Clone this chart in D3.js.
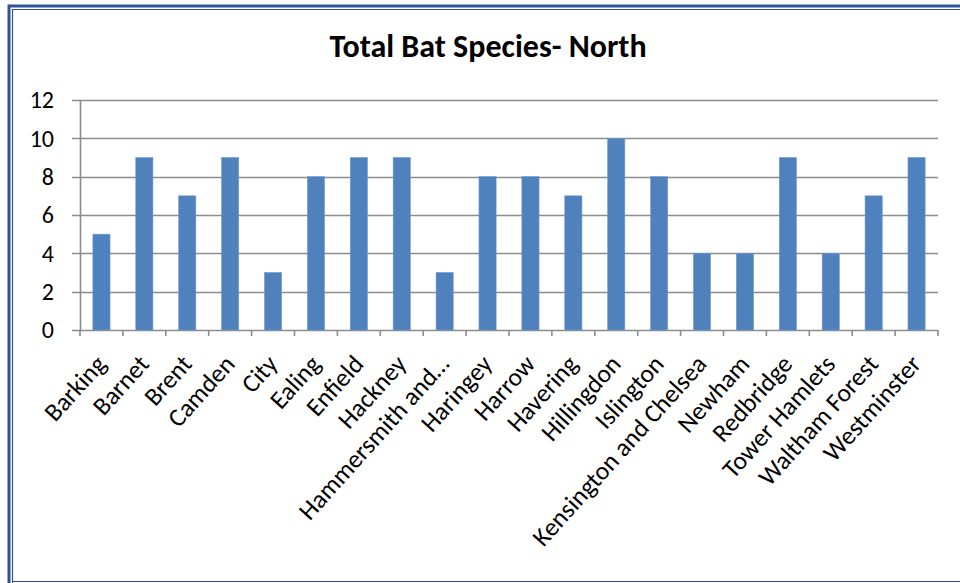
<!DOCTYPE html>
<html>
<head>
<meta charset="utf-8">
<script src="https://cdn.jsdelivr.net/npm/d3@7"></script>
<style>
  html, body { margin: 0; padding: 0; background: #fff; }
  svg { display: block; font-family: Carlito, Calibri, Lato, "Open Sans", sans-serif; }
</style>
</head>
<body>
<svg id="chart" width="960" height="583"></svg>
<script>
// London boroughs (north) and the number of bat species recorded in each
const boroughs = ["Barking", "Barnet", "Brent", "Camden", "City", "Ealing", "Enfield", "Hackney",
  "Hammersmith and…", "Haringey", "Harrow", "Havering", "Hillingdon", "Islington",
  "Kensington and Chelsea", "Newham", "Redbridge", "Tower Hamlets", "Waltham Forest", "Westminster"];
const speciesCounts = [5, 9, 7, 9, 3, 8, 9, 9, 3, 8, 8, 7, 10, 8, 4, 4, 9, 4, 7, 9];
const yTicks = [0, 2, 4, 6, 8, 10, 12];
const chartTitle = "Total Bat Species- North";

const svg = d3.select("#chart");
const fontStack = "Carlito, Calibri, Lato, 'Open Sans', sans-serif";

// Outer frame: heavy blue rule with a thin inner rule
const frameColor = "#2F5496";
svg.append("path")
  .attr("d", "M9,583 V6 H960")
  .attr("fill", "none").attr("stroke", frameColor).attr("stroke-width", 3);
svg.append("path")
  .attr("d", "M12.5,583 V9.5 H960 M12.5,581.5 H960")
  .attr("fill", "none").attr("stroke", frameColor).attr("stroke-width", 1.2);

const plot = { left: 80, right: 938, top: 100, bottom: 330 };

const x = d3.scaleBand()
  .domain(boroughs)
  .range([plot.left, plot.right])
  .paddingInner(0.6)
  .paddingOuter(0.3);

const y = d3.scaleLinear()
  .domain([0, 12])
  .range([plot.bottom, plot.top]);

// Horizontal gridlines
svg.append("g")
  .selectAll("line")
  .data(yTicks)
  .join("line")
  .attr("x1", plot.left - 8)
  .attr("x2", plot.right)
  .attr("y1", d => Math.round(y(d)) + 0.5)
  .attr("y2", d => Math.round(y(d)) + 0.5)
  .attr("stroke", "#8c8c8c")
  .attr("stroke-width", 1.6);

// Bars
svg.append("g")
  .selectAll("rect")
  .data(speciesCounts)
  .join("rect")
  .attr("x", (d, i) => x(boroughs[i]))
  .attr("width", x.bandwidth())
  .attr("y", d => y(d))
  .attr("height", d => y(0) - y(d))
  .attr("fill", "#4F81BD")
  .attr("stroke", "#6f9ad0")
  .attr("stroke-width", 0.6);

// Y axis
const yAxis = d3.axisLeft(y)
  .tickValues(yTicks)
  .tickSize(0)
  .tickPadding(26)
  .tickFormat(d3.format("d"));
const yg = svg.append("g")
  .attr("transform", `translate(${plot.left},0)`)
  .call(yAxis);
yg.select(".domain").attr("stroke", "#8c8c8c").attr("stroke-width", 1.6);
yg.selectAll("text")
  .attr("font-size", 24)
  .attr("fill", "#000")
  .attr("font-family", fontStack);

// X axis with tick marks at category boundaries
const boundaries = d3.range(boroughs.length + 1).map(i => plot.left + i * (plot.right - plot.left) / boroughs.length);
svg.append("g")
  .selectAll("line")
  .data(boundaries)
  .join("line")
  .attr("x1", d => d).attr("x2", d => d)
  .attr("y1", plot.bottom).attr("y2", plot.bottom + 6)
  .attr("stroke", "#8c8c8c").attr("stroke-width", 1.6);

const xAxis = d3.axisBottom(x).tickSize(0).tickPadding(0);
const xg = svg.append("g")
  .attr("transform", `translate(0,${plot.bottom})`)
  .call(xAxis);
xg.select(".domain").remove();
xg.selectAll(".tick text")
  .attr("font-size", 25.5)
  .attr("fill", "#000")
  .attr("font-family", fontStack)
  .attr("text-anchor", "end")
  .attr("dy", null)
  .attr("y", 0)
  .attr("transform", "translate(6,35) rotate(-48)");

// Title
svg.append("text")
  .attr("x", 488)
  .attr("y", 57)
  .attr("text-anchor", "middle")
  .attr("font-size", 32)
  .attr("font-weight", "bold")
  .attr("fill", "#000")
  .attr("font-family", fontStack)
  .text(chartTitle);
</script>
</body>
</html>
